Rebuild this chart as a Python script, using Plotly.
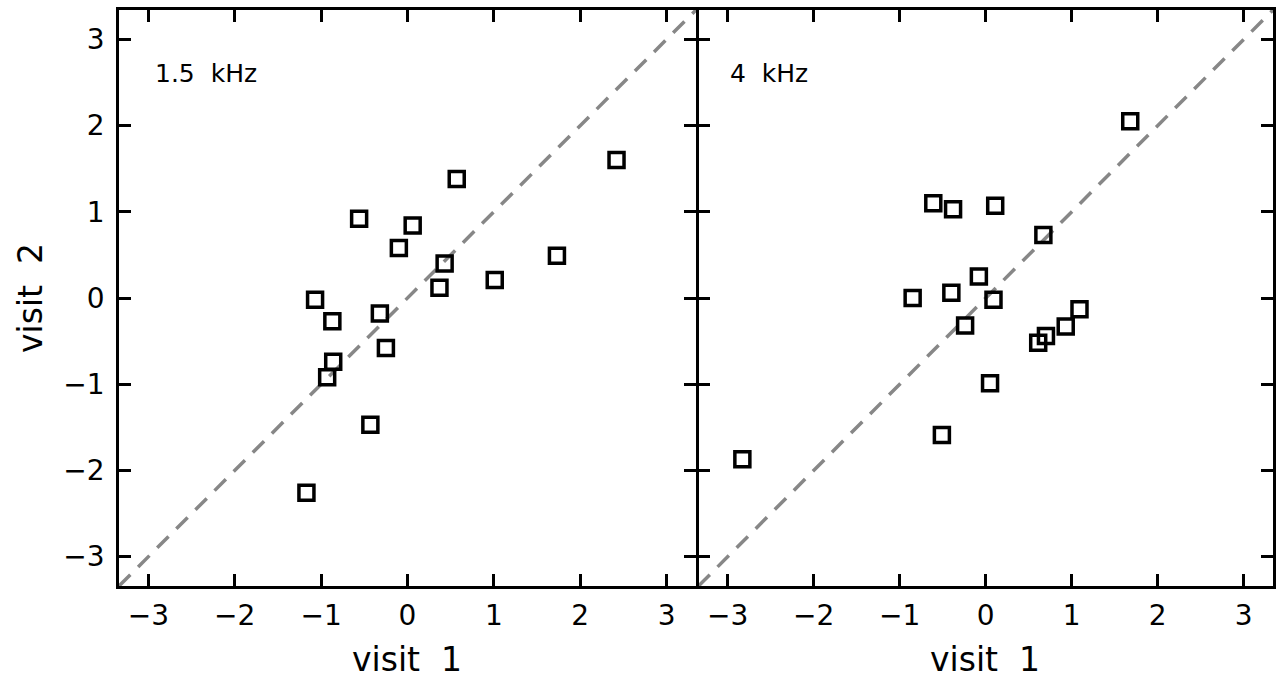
import plotly.graph_objects as go

# ---- data ----
left_x = [2.42, 0.57, -0.56, 0.06, -0.10, 0.43, 1.73, 1.01, 0.37, -1.07, -0.87, -0.32, -0.25, -0.86, -0.93, -0.43, -1.17]
left_y = [1.60, 1.38, 0.92, 0.84, 0.58, 0.40, 0.49, 0.21, 0.12, -0.02, -0.27, -0.18, -0.58, -0.74, -0.92, -1.47, -2.26]

right_x = [1.68, -0.61, -0.38, 0.11, 0.67, -0.08, -0.85, -0.40, 0.09, -0.24, 1.09, 0.93, 0.70, 0.61, 0.05, -0.51, -2.83]
right_y = [2.05, 1.10, 1.03, 1.07, 0.73, 0.25, 0.00, 0.06, -0.02, -0.32, -0.13, -0.33, -0.44, -0.52, -0.99, -1.59, -1.87]

tick_vals = [-3, -2, -1, 0, 1, 2, 3]
panel_labels = ["1.5\u00a0\u00a0kHz", "4\u00a0\u00a0kHz"]
x_title = "visit\u00a0\u00a01"
y_title = "visit\u00a0\u00a02"

R = 3.34
W, H = 1285, 679
FONT = "DejaVu Sans"

fig = go.Figure()

for i, (xs, ys) in enumerate([(left_x, left_y), (right_x, right_y)]):
    xa = "x" if i == 0 else "x2"
    ya = "y" if i == 0 else "y2"
    fig.add_trace(go.Scatter(
        x=[-R, R], y=[-R, R], xaxis=xa, yaxis=ya, mode="lines",
        line=dict(color="#878787", width=3.5, dash="16px,11px"),
        hoverinfo="skip", showlegend=False))
    fig.add_trace(go.Scatter(
        x=xs, y=ys, xaxis=xa, yaxis=ya, mode="markers",
        marker=dict(symbol="square-open", size=15, color="black",
                    line=dict(width=3.5, color="black")),
        showlegend=False))

x0, x1a, x1b, x2 = 119 / W, 696 / W, 698.5 / W, 1273 / W
ybot, ytop = 1 - 586 / H, 1 - 10 / H

common = dict(
    range=[-R, R], tickvals=tick_vals, ticks="inside", ticklen=12, tickwidth=2.5,
    tickcolor="black", showline=True, linewidth=2.5, linecolor="black",
    mirror="ticks", showgrid=False, zeroline=False,
    tickfont=dict(family=FONT, size=28, color="black"),
)

fig.update_layout(
    width=W, height=H, margin=dict(l=0, r=0, t=0, b=0),
    paper_bgcolor="white", plot_bgcolor="white",
    xaxis=dict(domain=[x0, x1a], anchor="y", ticklabelstandoff=3, **common),
    yaxis=dict(domain=[ybot, ytop], anchor="x", ticklabelstandoff=6, **common),
    xaxis2=dict(domain=[x1b, x2], anchor="y2", ticklabelstandoff=3, **common),
    yaxis2=dict(domain=[ybot, ytop], anchor="x2", showticklabels=False, **common),
    showlegend=False,
)

annos = [
    dict(x=153 / W, y=1 - 73 / H, text=panel_labels[0]),
    dict(x=728 / W, y=1 - 73 / H, text=panel_labels[1]),
]
for a in annos:
    fig.add_annotation(xref="paper", yref="paper", xanchor="left", yanchor="middle",
                       showarrow=False, font=dict(family=FONT, size=25, color="black"), **a)

for cx in [407, 985]:
    fig.add_annotation(xref="paper", yref="paper", x=cx / W, y=1 - 659 / H,
                       xanchor="center", yanchor="middle", showarrow=False, text=x_title,
                       font=dict(family=FONT, size=33, color="black"))
fig.add_annotation(xref="paper", yref="paper", x=30 / W, y=1 - 298 / H,
                   xanchor="center", yanchor="middle", showarrow=False, text=y_title,
                   textangle=-90, font=dict(family=FONT, size=33, color="black"))

fig.write_html("out.html")
